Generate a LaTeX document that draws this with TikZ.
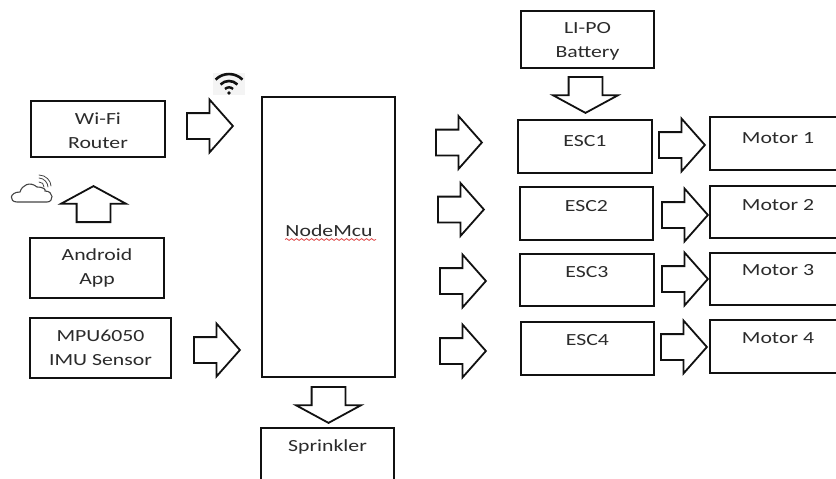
\documentclass[tikz,border=0pt]{standalone}
\usepackage{fontspec}
\setmainfont[FakeStretch=1.28]{Carlito}
\usepackage{xcolor}
\usetikzlibrary{positioning,shapes.arrows,decorations.pathmorphing}
\definecolor{BlockInk}{HTML}{111111}
\definecolor{LabelInk}{HTML}{2B2B2B}
\definecolor{CloudInk}{HTML}{444444}
\definecolor{SpellRed}{HTML}{E04848}
\definecolor{IconBack}{HTML}{F4F4F4}
\tikzset{
  block/.style={draw=BlockInk,line width=1.8pt,fill=white,align=center,inner sep=0pt,
    text=LabelInk,font=\fontsize{17}{24}\selectfont},
  tag/.style={text=LabelInk,align=center,font=\fontsize{17}{24}\selectfont,inner sep=0pt},
  sidearrow/.style={single arrow,draw=BlockInk,line width=1.8pt,fill=white,inner xsep=0pt,inner ysep=12pt,
    minimum height=46pt,minimum width=50pt,single arrow head extend=13.5pt,single arrow tip angle=97,anchor=tail},
  wideflow/.style={single arrow,draw=BlockInk,line width=1.8pt,fill=white,inner xsep=0pt,inner ysep=16pt,
    minimum height=36pt,minimum width=63pt,single arrow head extend=15.5pt,single arrow tip angle=123,anchor=tail},
  spell/.style={draw=SpellRed,line width=0.8pt,decorate,decoration={snake,amplitude=0.9pt,segment length=5pt}},
  icon/.style={draw=CloudInk,line width=1.1pt,line cap=round}
}
\begin{document}
\begin{tikzpicture}[x=1pt,y=-1pt]
  \useasboundingbox (0,0) rectangle (836,479);
  \clip (0,0) rectangle (836,479);
  \node[block,minimum width=134pt,minimum height=56pt,label={[tag,yshift=-2pt]center:Wi-Fi\\Router}] (router) at (98,129) {};
  \node[block,minimum width=134pt,minimum height=60pt] (android) at (97,268) {Android\\App};
  \node[block,minimum width=141pt,minimum height=60pt] (imu) at (100.5,348) {MPU6050\\IMU Sensor};
  \node[block,minimum width=133pt,minimum height=280pt] (mcu) at (328.5,237) {};
  \node[tag] (mcutext) at (329,231) {NodeMcu};
  \node[block,minimum width=133pt,minimum height=70pt,label={[tag,yshift=16pt]center:Sprinkler}] (sprinkler) at (327.5,463) {};
  \node[block,minimum width=133pt,minimum height=57pt,label={[tag,yshift=-2pt]center:LI-PO\\Battery}] (battery) at (587.5,39.5) {};
  \node[block,minimum width=134pt,minimum height=53pt,label={[tag,yshift=5pt]center:ESC1}] (esc1) at (585,146.5) {};
  \node[block,minimum width=133pt,minimum height=53pt,label={[tag,yshift=7pt]center:ESC2}] (esc2) at (586.5,213.5) {};
  \node[block,minimum width=134pt,minimum height=52pt,label={[tag,yshift=8pt]center:ESC3}] (esc3) at (587,280) {};
  \node[block,minimum width=133pt,minimum height=53pt,label={[tag,yshift=8pt]center:ESC4}] (esc4) at (587.5,348.5) {};
  \node[block,minimum width=136pt,minimum height=53pt,label={[tag,yshift=5pt]center:Motor 1}] (motor1) at (778,143.5) {};
  \node[block,minimum width=136pt,minimum height=52pt,label={[tag,yshift=7pt]center:Motor 2}] (motor2) at (778,212) {};
  \node[block,minimum width=136pt,minimum height=52pt,label={[tag,yshift=9pt]center:Motor 3}] (motor3) at (778,279) {};
  \node[block,minimum width=136pt,minimum height=53pt,label={[tag,yshift=8pt]center:Motor 4}] (motor4) at (778,346.5) {};
  \node[sidearrow] (wififlow) at (186,126) {};
  \node[sidearrow] (imuflow) at (193,350) {};
  \node[sidearrow] (outflow1) at (435,142.5) {};
  \node[sidearrow] (outflow2) at (437,209.5) {};
  \node[sidearrow] (outflow3) at (439,281) {};
  \node[sidearrow] (outflow4) at (439,351) {};
  \node[sidearrow] (driveflow1) at (658,145) {};
  \node[sidearrow] (driveflow2) at (661,215) {};
  \node[sidearrow] (driveflow3) at (661,279) {};
  \node[sidearrow] (driveflow4) at (660,347) {};
  \node[wideflow,rotate=90] (appflow) at (93.5,223) {};
  \node[wideflow,rotate=-90] (batteryflow) at (585.5,76) {};
  \node[wideflow,rotate=-90] (sprinklerflow) at (328.5,386) {};
  \draw[spell] (285,239.5) -- (376,239.5);
  \fill[IconBack] (213,73) rectangle (245,95);
  \draw[line width=2.6pt,BlockInk] (215.6,79.6) arc[start angle=-135,end angle=-45,radius=19];
  \draw[line width=2.6pt,BlockInk] (220.5,84.5) arc[start angle=-135,end angle=-45,radius=12];
  \draw[line width=2.4pt,BlockInk] (225,89) arc[start angle=-135,end angle=-45,radius=5.7];
  \fill[BlockInk] (229,93) circle[radius=1.8];
  \draw[icon] (17,202) .. controls (9,202) and (9,192) .. (20,192) .. controls (22,185) and (30,181) .. (37,187) .. controls (44,187) and (46,190) .. (45,191) .. controls (54,191) and (54,202) .. (47,202) -- cycle;
  \draw[icon,line width=0.8pt] (39,182) .. controls (42,182) and (44,184) .. (44,187);
  \draw[icon,line width=0.8pt] (39,178) .. controls (44,178) and (48,183) .. (48,187);
  \draw[icon,line width=0.8pt] (39,175) .. controls (46,175) and (51,181) .. (51,186);
\end{tikzpicture}
\end{document}
